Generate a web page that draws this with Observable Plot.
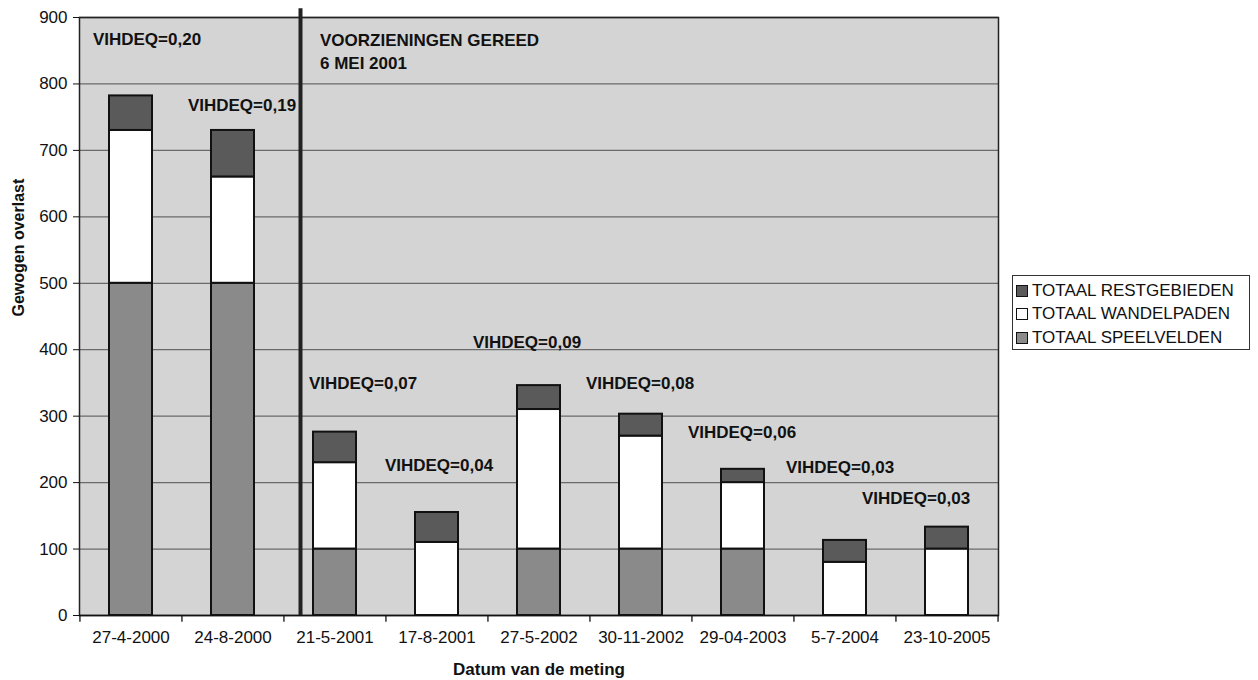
<!DOCTYPE html>
<html>
<head>
<meta charset="utf-8">
<script src="https://cdn.jsdelivr.net/npm/d3@7"></script>
<script src="https://cdn.jsdelivr.net/npm/@observablehq/plot@0.6"></script>
<style>
  body { margin: 0; background: #fff; font-family: "Liberation Sans", Arial, sans-serif; }
  #wrap { position: relative; width: 1258px; height: 680px; }
  #legend { position: absolute; left: 1012px; top: 275px; width: 238px; height: 75px; border: 1.5px solid #333; box-sizing: border-box; background: #fff; padding: 3px 0 0 3px; }
  .item { display: flex; align-items: center; height: 23.5px; font-size: 17px; color: #111; white-space: nowrap; }
  .sw { width: 10px; height: 10px; border: 1.5px solid #111; margin-right: 4px; flex: none; }
</style>
</head>
<body>
<div id="wrap"><div id="chart"></div><div id="legend"></div></div>
<script>
// ---- data ----
const dates = ["27-4-2000","24-8-2000","21-5-2001","17-8-2001","27-5-2002","30-11-2002","29-04-2003","5-7-2004","23-10-2005"];
const speelvelden  = [500, 500, 100,   0, 100, 100, 100,  0,   0];
const wandelpaden  = [230, 160, 130, 110, 210, 170, 100, 80, 100];
const restgebieden = [ 52,  70,  46,  45,  36,  33,  20, 33,  33];
const seriesNames = ["TOTAAL SPEELVELDEN", "TOTAAL WANDELPADEN", "TOTAAL RESTGEBIEDEN"];
const legendOrder = ["TOTAAL RESTGEBIEDEN", "TOTAAL WANDELPADEN", "TOTAAL SPEELVELDEN"];
const yTicks = [0, 100, 200, 300, 400, 500, 600, 700, 800, 900];
const vihdeqText  = ["VIHDEQ=0,20","VIHDEQ=0,19","VIHDEQ=0,07","VIHDEQ=0,04","VIHDEQ=0,09","VIHDEQ=0,08","VIHDEQ=0,06","VIHDEQ=0,03","VIHDEQ=0,03"];
const vihdeqLevel = [867, 768, 349, 226, 411, 349, 275, 223, 176];
const eventDate = "21-5-2001";
const eventText = "VOORZIENINGEN GEREED\n6 MEI 2001";
const eventLevel = 851;
const yTitle = "Gewogen overlast";
const xTitle = "Datum van de meting";

// ---- styles / layout ----
const colors = {"TOTAAL SPEELVELDEN": "#8a8a8a", "TOTAAL WANDELPADEN": "#ffffff", "TOTAAL RESTGEBIEDEN": "#5a5a5a"};
const labelDx = [16, 9, 28, 2, -12, -1, -1, -5, -31];
const W = 1258, H = 680, mL = 79, mR = 260, mT = 17, mB = 65;
const step = (W - mL - mR) / dates.length;
const font = "Liberation Sans, Arial, sans-serif";

const values = [speelvelden, wandelpaden, restgebieden];
const rows = [];
seriesNames.forEach((s, si) => dates.forEach((d, i) => rows.push({date: d, series: s, value: values[si][i]})));
const annots = dates.map((d, i) => ({date: d, y: vihdeqLevel[i], text: vihdeqText[i]}));

const chart = Plot.plot({
  width: W, height: H,
  marginLeft: mL, marginRight: mR, marginTop: mT, marginBottom: mB,
  style: {fontFamily: font, fontSize: "17px", color: "#111", background: "#fff"},
  x: {domain: dates, paddingInner: 0.58, paddingOuter: 0.29, label: null},
  y: {domain: [0, 900], label: null},
  marks: [
    Plot.frame({fill: "#d4d4d4", stroke: null}),
    Plot.ruleY(yTicks.slice(1), {stroke: "#6a6a6a", strokeWidth: 1.3}),
    Plot.barY(rows.filter(r => r.value > 0), Plot.stackY({
      x: "date", y: "value", z: "series",
      fill: r => colors[r.series], stroke: "#111", strokeWidth: 2
    })),
    Plot.frame({stroke: "#222", strokeWidth: 1.5}),
    Plot.ruleY([0], {stroke: "#111", strokeWidth: 1.5}),
    Plot.ruleX(dates, {x: d => d, y1: 0, y2: -10, dx: -step / 2, stroke: "#111", strokeWidth: 1.3}),
    Plot.ruleX(dates.slice(-1), {x: d => d, y1: 0, y2: -10, dx: step / 2, stroke: "#111", strokeWidth: 1.3}),
    Plot.ruleX([eventDate], {x: d => d, y1: 0, y2: 913, dx: -34.5, stroke: "#222", strokeWidth: 4}),
    Plot.axisY({ticks: yTicks, tickSize: 6, tickPadding: 6, fontSize: 17, label: null, stroke: "#111"}),
    Plot.axisX({tickSize: 0, tickPadding: 15, fontSize: 17, label: null}),
    ...annots.map((a, i) => Plot.text([a], {x: "date", y: "y", text: "text", dx: labelDx[i],
      fontSize: 17, fontWeight: "bold", fill: "#111"})),
    Plot.text([eventText], {x: () => eventDate, y: () => eventLevel, text: d => d, dx: -15,
      textAnchor: "start", lineHeight: 1.35, fontSize: 17, fontWeight: "bold", fill: "#111"}),
    Plot.text([yTitle], {frameAnchor: "left", dx: -61, rotate: -90, text: d => d,
      fontSize: 16, fontWeight: "bold", fill: "#111"}),
    Plot.text([xTitle], {frameAnchor: "bottom", dy: 59, text: d => d,
      fontSize: 17, fontWeight: "bold", fill: "#111"})
  ]
});
document.getElementById("chart").appendChild(chart);

const legend = document.getElementById("legend");
legendOrder.forEach(s => {
  const it = document.createElement("div");
  it.className = "item";
  const sw = document.createElement("span");
  sw.className = "sw";
  sw.style.background = colors[s];
  it.appendChild(sw);
  it.appendChild(document.createTextNode(s));
  legend.appendChild(it);
});
</script>
</body>
</html>
